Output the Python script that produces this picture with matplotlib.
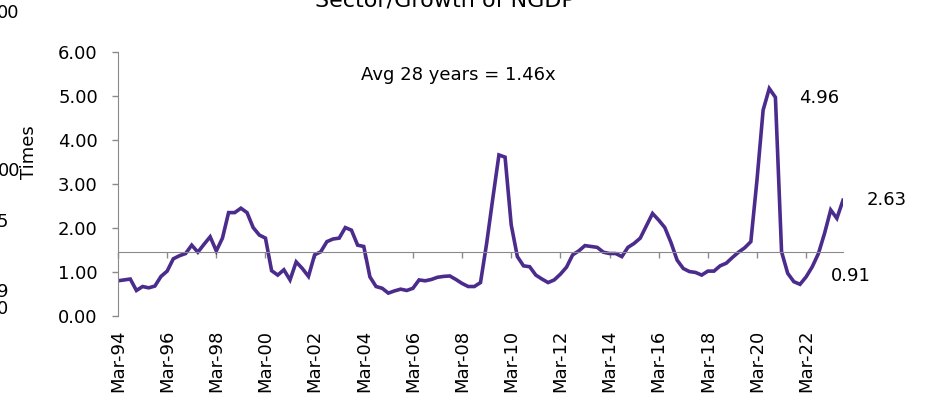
import matplotlib
matplotlib.use("Agg")
import matplotlib.pyplot as plt

plt.rcParams['font.family'] = ['DejaVu Sans']

# quarterly ratio, Mar-94 .. Sep-23
ratio = [0.80, 0.82, 0.84, 0.58, 0.67, 0.64, 0.68, 0.90, 1.02, 1.30,
         1.37, 1.42, 1.61, 1.45, 1.63, 1.80, 1.48, 1.77, 2.35, 2.35,
         2.45, 2.35, 2.01, 1.84, 1.77, 1.03, 0.93, 1.05, 0.82, 1.23,
         1.08, 0.90, 1.39, 1.46, 1.69, 1.75, 1.77, 2.01, 1.95, 1.61,
         1.58, 0.89, 0.67, 0.63, 0.52, 0.57, 0.61, 0.58, 0.63, 0.82,
         0.80, 0.83, 0.88, 0.90, 0.91, 0.83, 0.74, 0.67, 0.67, 0.76,
         1.65, 2.67, 3.66, 3.61, 2.07, 1.35, 1.14, 1.12, 0.93, 0.84,
         0.76, 0.82, 0.95, 1.11, 1.39, 1.48, 1.60, 1.58, 1.56, 1.45,
         1.42, 1.42, 1.35, 1.56, 1.65, 1.77, 2.05, 2.33, 2.18, 2.01,
         1.67, 1.27, 1.08, 1.01, 0.99, 0.93, 1.02, 1.02, 1.14, 1.20,
         1.33, 1.45, 1.55, 1.69, 3.09, 4.68, 5.17, 4.97, 1.46, 0.97,
         0.78, 0.72, 0.89, 1.12, 1.42, 1.88, 2.41, 2.22, 2.63]
avg = 1.46
tick_labels = ["Mar-%02d" % (y % 100) for y in range(1994, 2023, 2)]
callouts = [("4.96", 110.9, 4.96), ("2.63", 121.8, 2.63), ("0.91", 116.1, 0.91)]

x = list(range(len(ratio)))
tick_pos = list(range(0, len(ratio), 8))[:len(tick_labels)]

fig = plt.figure(figsize=(9.28, 4.01), dpi=100)
ax = fig.add_axes([118/928, 85/401, 725/928, 264/401])

ax.plot(x, ratio, color='#4B2C8C', lw=2.6, solid_joinstyle='miter')

grey = '#8a8a8a'
ax.set_xlim(0, len(ratio) - 1)
ax.set_ylim(0, 6)
ax.set_yticks([0, 1, 2, 3, 4, 5, 6])
ax.set_yticklabels(["%.2f" % v for v in range(7)])
ax.tick_params(axis='y', direction='out', length=4.5, width=1, color=grey,
               labelsize=13, pad=10)

# horizontal axis crosses at the average
ax.spines['bottom'].set_position(('data', avg))
ax.spines['bottom'].set_color(grey)
ax.spines['left'].set_color(grey)
ax.spines['top'].set_visible(False)
ax.spines['right'].set_visible(False)
ax.set_xticks(tick_pos)
ax.tick_params(axis='x', direction='out', length=4, width=1, color=grey,
               labelbottom=False)

sec = ax.secondary_xaxis(0.0)
sec.set_xticks(tick_pos)
sec.set_xticklabels(tick_labels, rotation=90, fontsize=13)
sec.tick_params(length=0, pad=10)
sec.spines['bottom'].set_visible(False)

ax.text(55.4, 5.48, "Avg 28 years = 1.46x", ha='center', va='center', fontsize=13)
for txt, xi, yv in callouts:
    ax.text(xi, yv, txt, ha='left', va='center', fontsize=13, clip_on=False)

fig.text(29.5/928, 1 - 152/401, "Times", rotation=90, ha='center', va='center',
         fontsize=13)
fig.text(445/928, 1 - 6/401, "Sector/Growth of NGDP", ha='center', va='baseline',
         fontsize=16)

# cut-off labels of the neighbouring chart
for txt, xp, yp in [("00", 19, 13), ("00", 20, 171), ("5", 8, 222),
                    ("9", 8, 292), ("0", 8, 309)]:
    fig.text(xp/928, 1 - yp/401, txt, ha='right', va='center', fontsize=13)

fig.savefig("out.png", dpi=100)
